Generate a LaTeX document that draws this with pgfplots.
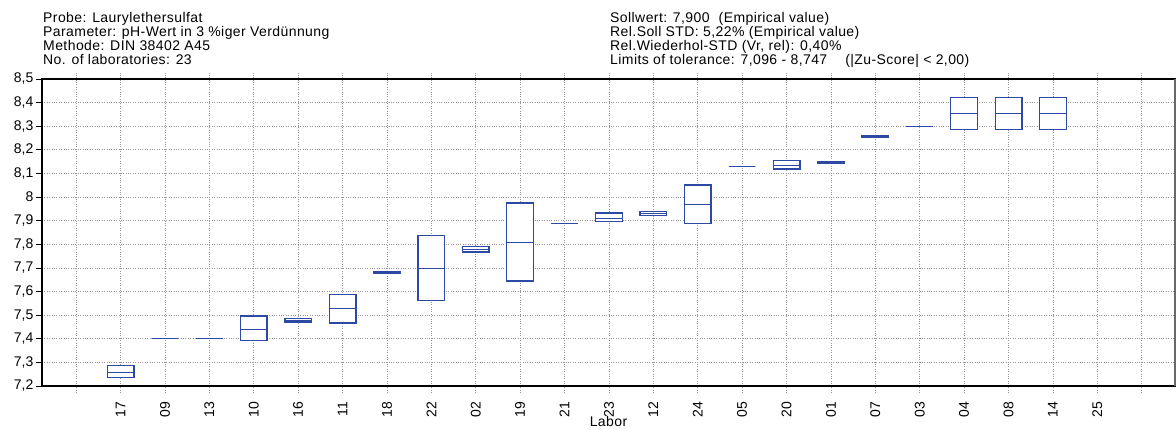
\documentclass[border=0pt]{standalone}
\usepackage{fontspec}
\setmainfont{Liberation Sans}[LetterSpace=3]
\newfontfamily\tickfont{Liberation Sans}
\usepackage{pgfplots}
\pgfplotsset{compat=1.18}
\usepgfplotslibrary{statistics}
\definecolor{boxblue}{RGB}{44,74,164}
\definecolor{gridgray}{RGB}{150,150,150}

% one laboratory: position, lower quartile, median, upper quartile
\newcommand{\labbox}[4]{%
  \addplot[draw=boxblue, fill=white, line width=1.3bp,
    boxplot/draw direction=y, boxplot/box extend=0.6,
    boxplot/draw/lower whisker/.code={}, boxplot/draw/upper whisker/.code={},
    boxplot prepared={draw position=#1,
      lower whisker=#2, lower quartile=#2, median=#3,
      upper quartile=#4, upper whisker=#4}] coordinates {};}

\begin{document}
\begin{tikzpicture}
\useasboundingbox (0bp,0bp) rectangle (1176bp,430bp);
\fontsize{14bp}{16bp}\selectfont
% header, left block
\node[anchor=base west, inner sep=0] at (43bp,407.3bp) {Probe: Laurylethersulfat};
\node[anchor=base west, inner sep=0] at (43bp,393.3bp) {Parameter: pH-Wert in 3 \%iger Verdünnung};
\node[anchor=base west, inner sep=0] at (43bp,379.3bp) {Methode: DIN 38402 A45};
\node[anchor=base west, inner sep=0] at (43bp,365.3bp) {No. of laboratories: 23};
% header, right block
\node[anchor=base west, inner sep=0] at (610bp,407.3bp) {Sollwert: 7,900\hspace{9bp}(Empirical value)};
\node[anchor=base west, inner sep=0] at (610bp,393.3bp) {Rel.Soll STD: 5,22\% (Empirical value)};
\node[anchor=base west, inner sep=0] at (610bp,379.3bp) {Rel.Wiederhol-STD (Vr, rel): 0,40\%};
\node[anchor=base west, inner sep=0] at (610bp,365.3bp) {Limits of tolerance: 7,096 - 8,747\hspace{18bp}(|Zu-Score| < 2,00)};

\begin{axis}[
  at={(42bp,44bp)}, anchor=south west,
  scale only axis, width=1133bp, height=307bp,
  xmin=-0.77, xmax=24.75, ymin=7.2, ymax=8.5,
  xtick={0,...,24},
  xticklabels={,17,09,13,10,16,11,18,22,02,19,21,23,12,24,05,20,01,07,03,04,08,14,25,},
  ytick={7.2,7.3,...,8.5},
  /pgf/number format/.cd, use comma, fixed, precision=1, assume math mode=true,
  /pgfplots/.cd,
  tick label style={font=\tickfont\fontsize{14bp}{16bp}\selectfont},
  xticklabel style={rotate=90, anchor=east, inner sep=10bp},
  yticklabel style={inner sep=2.5bp},
  tick align=outside, major tick length=6bp,
  xtick style={draw=gridgray, dotted, line width=0.8bp},
  ytick style={draw=black, line width=0.8bp},
  grid=major,
  major grid style={draw=gridgray, dotted, line width=0.8bp},
  axis line style={line width=1.2bp},
  xlabel={Labor},
  xlabel style={font=\fontsize{14bp}{16bp}\selectfont, at={(axis description cs:0.5,0)},
    anchor=base, inner sep=0pt, yshift=-40bp},
  clip=false,
]
\labbox{1}{7.236}{7.258}{7.288}
\labbox{2}{7.400}{7.400}{7.400}
\labbox{3}{7.400}{7.400}{7.400}
\labbox{4}{7.392}{7.438}{7.497}
\labbox{5}{7.471}{7.478}{7.486}
\labbox{6}{7.467}{7.527}{7.588}
\labbox{7}{7.677}{7.680}{7.683}
\labbox{8}{7.561}{7.698}{7.837}
\labbox{9}{7.767}{7.779}{7.791}
\labbox{10}{7.645}{7.809}{7.975}
\labbox{11}{7.887}{7.887}{7.887}
\labbox{12}{7.898}{7.909}{7.933}
\labbox{13}{7.922}{7.931}{7.938}
\labbox{14}{7.887}{7.969}{8.051}
\labbox{15}{8.130}{8.130}{8.130}
\labbox{16}{8.119}{8.135}{8.155}
\labbox{17}{8.144}{8.146}{8.149}
\labbox{18}{8.255}{8.258}{8.261}
\labbox{19}{8.300}{8.300}{8.300}
\labbox{20}{8.285}{8.353}{8.423}
\labbox{21}{8.285}{8.353}{8.423}
\labbox{22}{8.285}{8.353}{8.423}
% frame: heavy left and bottom edges, light right edge
\draw[line width=2.4bp, black] (rel axis cs:0,1) -- (rel axis cs:0,0) -- (rel axis cs:1,0);
\draw[line width=1.2bp, gridgray!70!black] (rel axis cs:1,0) -- (rel axis cs:1,1);
\end{axis}
\end{tikzpicture}
\end{document}
